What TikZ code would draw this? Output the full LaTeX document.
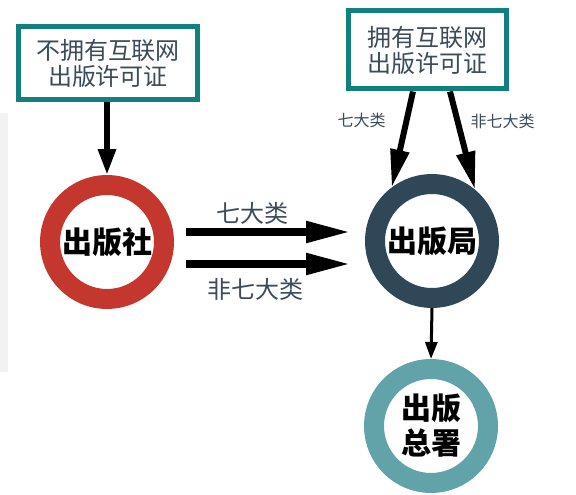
\documentclass[tikz,border=0pt]{standalone}
\usepackage{fontspec}
\newfontfamily\cjk{Noto Sans CJK SC}
\usetikzlibrary{arrows.meta,positioning}

\definecolor{boxteal}{HTML}{12807D}
\definecolor{labelgrey}{HTML}{3B4B59}
\definecolor{sheRed}{HTML}{C3372F}
\definecolor{juSlate}{HTML}{2F4757}
\definecolor{zsTeal}{HTML}{62A2A9}
\definecolor{stripGrey}{HTML}{F2F2F2}

\begin{document}
\begin{tikzpicture}[
  x=1pt, y=-1pt,
  every node/.style={inner sep=1pt, font=\cjk},
  licence/.style={draw=boxteal, line width=5pt, fill=white, align=center,
    text=labelgrey, font=\cjk\fontsize{24}{26}\selectfont,
    minimum width=179pt, minimum height=73pt},
  org/.style={circle, draw, line width=20pt, fill=white, minimum size=114pt,
    align=center, font=\cjk\bfseries\fontsize{30}{35}\selectfont},
  lab/.style={text=labelgrey, font=\cjk\fontsize{24}{26}\selectfont},
  slab/.style={text=labelgrey, font=\cjk\fontsize{16}{18}\selectfont},
  varrow/.style={draw, line width=6pt, -{Triangle[length=26pt, width=17pt]}},
  darrow/.style={draw, line width=6pt, -{Triangle[length=38pt, width=18pt]}},
  harrow/.style={draw, line width=8pt, -{Triangle[length=45pt, width=20pt]}},
  sarrow/.style={draw, line width=3pt, -{Triangle[length=17pt, width=12pt]}}]

  \useasboundingbox (0,0) rectangle (576,495);
  \fill[stripGrey] (0,113) rectangle (8,372);

  % ---- nodes --------------------------------------------------------------
  \node[licence] (nolic) at (108,63) {不拥有互联网\\出版许可证};
  \node[licence, minimum width=158pt, minimum height=78pt]
    (haslic) at (427,50) {拥有互联网\\出版许可证};
  \node[org, draw=sheRed] (she) at (107,242) {出版社};
  \node[org, draw=juSlate] (ju) at (432,241) {出版局};
  \node[org, draw=zsTeal] (zs) at (431,426) {出版\\总署};

  % ---- free ends of the two horizontal arrows -----------------------------
  \coordinate (topA) at ([xshift=12pt, yshift=10pt]she.east);
  \coordinate (topB) at ([xshift=-14pt, yshift=9pt]ju.west);
  \coordinate (botA) at ([xshift=12pt, yshift=-22pt]she.east);
  \coordinate (botB) at ([xshift=-14pt, yshift=-23pt]ju.west);

  % ---- arrows -------------------------------------------------------------
  \draw[varrow] (nolic.south -| she.north) -- (she.north);
  \draw[harrow] (topA) -- node[lab, pos=0.4, above=3pt] {七大类} (topB);
  \draw[harrow] (botA) -- node[lab, pos=0.42, below=9pt] {非七大类} (botB);
  \draw[darrow] ([xshift=-14pt]haslic.south) --
    node[slab, pos=0.3, left=17pt] {七大类} (ju.127);
  \draw[darrow] ([xshift=23pt]haslic.south) --
    node[slab, pos=0.3, right=9pt] {非七大类} (ju.50);
  \draw[sarrow] (ju.south) -- (zs.north);
\end{tikzpicture}
\end{document}
